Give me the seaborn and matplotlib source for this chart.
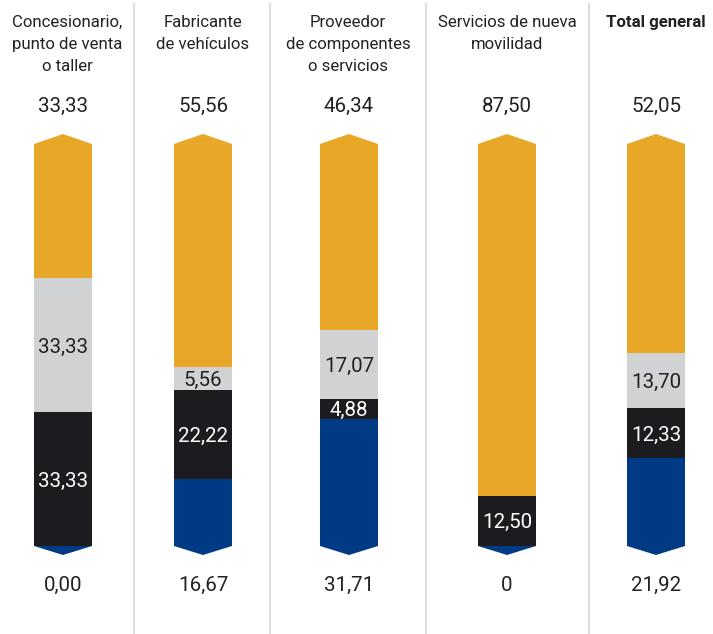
import numpy as np
import pandas as pd
import matplotlib
matplotlib.use("Agg")
import matplotlib.pyplot as plt
import seaborn as sns

# ---- data ----
categories = ["Concesionario,\npunto de venta\no taller",
              "Fabricante\nde vehículos",
              "Proveedor\nde componentes\no servicios",
              "Servicios de nueva\nmovilidad",
              "Total general"]
orange = [33.33, 55.56, 46.34, 87.50, 52.05]
grey = [33.33, 5.56, 17.07, 0.00, 13.70]
black = [33.33, 22.22, 4.88, 12.50, 12.33]
blue = [0.00, 16.67, 31.71, 0.00, 21.92]
top_labels = ["33,33", "55,56", "46,34", "87,50", "52,05"]
bottom_labels = ["0,00", "16,67", "31,71", "0", "21,92"]

# ---- layout (pixel based) ----
W, H = 713, 634
centers = [63, 203, 349, 507, 656]
title_x = [67, 203, 348, 507, 656]
separators = [134, 270, 426, 589]
bar_w = 58
bar_top_px, bar_bot_px = 144, 546
ppu = (bar_bot_px - bar_top_px) / 100.0


def py(p):
    """pixel row (from top) -> data y"""
    return (bar_bot_px - p) / ppu


C_OR = "#E9A727"
C_GR = "#D1D2D4"
C_BK = "#1C1B1F"
C_BL = "#003A84"
C_TX = "#222222"
NUM_FS = 14.8
TITLE_FS = 12.1

sns.set_theme(style="white")
plt.rcParams['font.family'] = ['Roboto', 'DejaVu Sans']

fig = plt.figure(figsize=(W / 100, H / 100), dpi=100)
ax = fig.add_axes([0, 0, 1, 1])

o = np.array(orange); g = np.array(grey); k = np.array(black); b = np.array(blue)
df = pd.DataFrame({
    "x": centers,
    "c_or": o + g + k + b,
    "c_gr": g + k + b,
    "c_bk": k + b,
    "c_bl": b,
})
min_gap = np.min(np.diff(sorted(centers)))
for col, colr in [("c_or", C_OR), ("c_gr", C_GR), ("c_bk", C_BK), ("c_bl", C_BL)]:
    sns.barplot(data=df, x="x", y=col, native_scale=True, width=bar_w / min_gap,
                color=colr, saturation=1, linewidth=0, errorbar=None, ax=ax)

tot = df["c_or"].values
for i, c in enumerate(centers):
    hw = bar_w / 2
    ax.fill([c - hw, c, c + hw], [tot[i], tot[i] + 10 / ppu, tot[i]], color=C_OR, lw=0)
    ax.fill([c - hw, c, c + hw], [0, -9 / ppu, 0], color=C_BL, lw=0)

# separators
for s in separators:
    ax.plot([s, s], [py(H), py(3)], color="#DDDDDD", lw=1.5, solid_capstyle="butt")

# titles
for i, t in enumerate(categories):
    for j, line in enumerate(t.split("\n")):
        ax.text(title_x[i], py(27 + 22 * j), line, ha="center", va="baseline",
                fontsize=TITLE_FS, color=C_TX,
                fontweight="bold" if i == len(categories) - 1 else "normal")

# top / bottom values
for i, c in enumerate(centers):
    ax.text(c, py(112.3), top_labels[i], ha="center", va="baseline", fontsize=NUM_FS, color=C_TX)
    ax.text(c, py(591), bottom_labels[i], ha="center", va="baseline", fontsize=NUM_FS, color=C_TX)

# in-bar labels
def fmt(v):
    return f"{v:.2f}".replace(".", ",")

for i, c in enumerate(centers):
    if g[i] > 0:
        ax.text(c, b[i] + k[i] + g[i] / 2, fmt(g[i]), ha="center", va="center_baseline",
                fontsize=NUM_FS, color=C_TX)
    if k[i] > 0:
        ax.text(c, b[i] + k[i] / 2, fmt(k[i]), ha="center", va="center_baseline",
                fontsize=NUM_FS, color="white")

ax.set_xlim(0, W)
ax.set_ylim(py(H), py(0))
ax.axis("off")
fig.savefig("out.png", dpi=100)
